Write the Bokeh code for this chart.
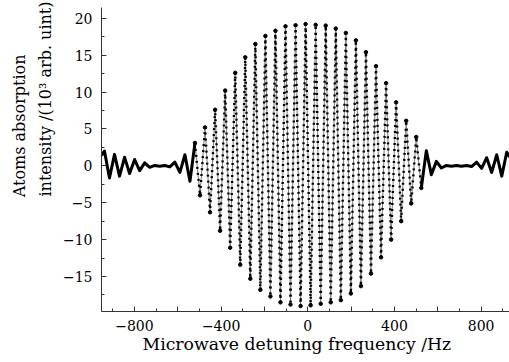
from bokeh.plotting import figure
from bokeh.models import Range1d, FixedTicker, Title, ColumnDataSource
from bokeh.embed import file_html
from bokeh.resources import INLINE

# Extrema of the Ramsey fringe (Hz, 10^3 arb. unit)
freq_hz = [-952, -938.4, -915.2, -892.0, -868.8, -845.5, -822.3, -799.1, -775.9, -752.7,
           -729.5, -706.3, -683.1, -659.8, -636.6, -613.4, -590.2, -567.0, -543.8, -520.6,
           -497.4, -474.2, -450.9, -427.7, -404.5, -381.3, -358.1, -334.9, -311.7, -288.5,
           -265.2, -242.0, -218.8, -195.6, -172.4, -149.2, -126.0, -102.8, -79.6, -56.3,
           -33.1, -10.0, 13.2, 36.4, 59.6, 82.8, 106.0, 129.3, 152.5, 175.7,
           198.9, 222.1, 245.3, 268.5, 291.7, 314.9, 338.2, 361.4, 384.6, 407.8,
           431.0, 454.2, 477.4, 500.6, 523.9, 547.1, 570.3, 593.5, 616.7, 639.9,
           663.1, 686.3, 709.5, 732.8, 756.0, 779.2, 802.4, 825.6, 848.8, 872.0,
           895.2, 918.4, 931]
intensity = [1.4, 2.0, -1.65, 1.55, -1.4, 1.15, -1.05, 0.85, -0.65, 0.4,
             -0.2, 0.05, -0.05, 0.05, -0.15, 0.5, -0.9, 1.5, -2.1, 3.1,
             -4.0, 5.2, -6.3, 7.6, -8.8, 10.2, -11.1, 12.6, -13.4, 14.7,
             -15.3, 16.5, -16.8, 17.6, -17.7, 18.3, -18.5, 18.9, -18.8, 19.05,
             -19.0, 19.2, -18.9, 19.1, -18.7, 19.0, -18.5, 18.6, -18.2, 18.0,
             -17.3, 17.0, -16.3, 15.4, -14.6, 13.5, -12.4, 11.2, -10.0, 8.6,
             -7.5, 6.1, -5.1, 3.9, -3.0, 2.05, -1.2, 0.6, -0.3, 0.05,
             -0.05, 0.05, -0.05, 0.05, -0.1, 0.5, -0.35, 1.1, -0.9, 1.5,
             -1.4, 1.85, 1.2]
assert len(freq_hz) == len(intensity)

x_major = [-800, -600, -400, -200, 0, 200, 400, 600, 800]
x_labels = {-800: "\u2212800", -600: "", -400: "\u2212400", -200: "", 0: "0",
            200: "", 400: "400", 600: "", 800: "800"}
y_major = [-15, -10, -5, 0, 5, 10, 15, 20]
y_labels = {-15: "\u221215", -10: "\u221210", -5: "\u22125", 0: "0",
            5: "5", 10: "10", 15: "15", 20: "20"}

x_title = "Microwave detuning frequency /Hz"
y_title_1 = "Atoms absorption"
y_title_2 = "intensity /(10\u00b3 arb. uint)"

SERIF = "DejaVu Serif"

p = figure(width=509, height=362, output_backend="svg", toolbar_location=None,
           x_range=Range1d(-952, 931), y_range=Range1d(-19.74, 21.45),
           min_border_left=101, min_border_right=0, min_border_top=7, min_border_bottom=51)
p.outline_line_color = None
p.grid.visible = False
p.background_fill_color = "white"

src_left = ColumnDataSource(dict(x=freq_hz[:20], y=intensity[:20]))
src_mid = ColumnDataSource(dict(x=freq_hz[19:65], y=intensity[19:65]))
src_right = ColumnDataSource(dict(x=freq_hz[64:], y=intensity[64:]))

# central fringes: thin grey strands with black dots
p.line("x", "y", source=src_mid, line_color="#808080", line_width=1)
p.line("x", "y", source=src_mid, line_color="black", line_width=2.4, line_dash="2 4")
p.scatter("x", "y", source=src_mid, size=3.5, color="black")
# tails: dense samples appear as a thick line
for s in (src_left, src_right):
    p.line("x", "y", source=s, line_color="black", line_width=3, line_join="round")

for ax in (p.xaxis[0], p.yaxis[0]):
    ax.axis_line_color = "#333333"
    ax.major_tick_line_color = "#333333"
    ax.minor_tick_line_color = "#333333"
    ax.major_tick_in = 5
    ax.major_tick_out = 0
    ax.minor_tick_in = 3
    ax.minor_tick_out = 0
    ax.major_label_text_font = SERIF
    ax.major_label_text_font_size = "14px"
    ax.major_label_text_color = "black"

p.xaxis.ticker = FixedTicker(ticks=x_major, minor_ticks=list(range(-900, 901, 100)))
p.xaxis.major_label_overrides = x_labels
p.xaxis.major_label_standoff = 8
p.yaxis.ticker = FixedTicker(ticks=y_major, minor_ticks=[v * 2.5 for v in range(-7, 9)])
p.yaxis.major_label_overrides = y_labels
p.yaxis.major_label_standoff = 9

p.add_layout(Title(text=x_title, align="left", offset=41, standoff=-3,
                   text_font=SERIF, text_font_size="17.25px", text_font_style="normal",
                   text_color="black"), "below")
p.add_layout(Title(text=y_title_2, align="right", offset=-6, standoff=10,
                   text_font=SERIF, text_font_size="16px", text_font_style="normal",
                   text_color="black"), "left")
p.add_layout(Title(text=y_title_1, align="right", offset=47, standoff=-1,
                   text_font=SERIF, text_font_size="16px", text_font_style="normal",
                   text_color="black"), "left")

open("out.html", "w").write(file_html(p, INLINE))
